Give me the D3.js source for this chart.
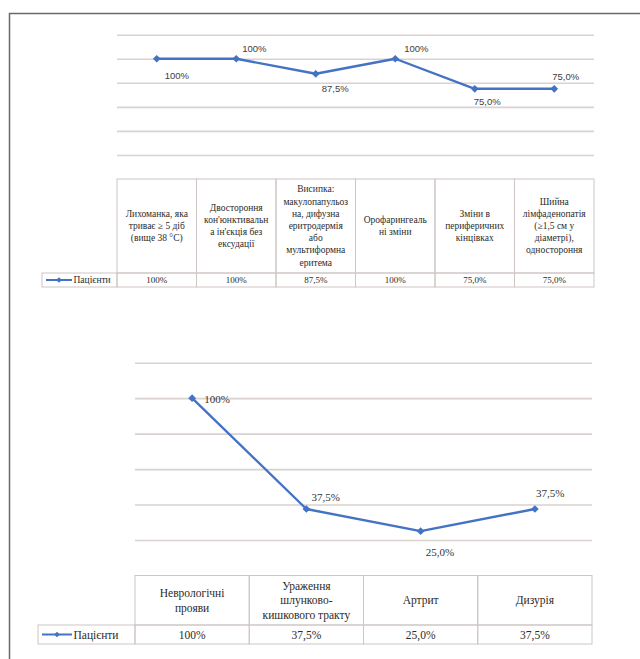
<!DOCTYPE html>
<html>
<head>
<meta charset="utf-8">
<script src="https://cdn.jsdelivr.net/npm/d3@7/dist/d3.min.js"></script>
</head>
<body style="margin:0">
<svg id="fig" width="640" height="659" style="display:block"></svg>
<script>
// ---- data: clinical signs (upper chart) ----
const signCategories = [
  "Лихоманка, яка\nтриває ≥ 5 діб\n(вище 38 °C)",
  "Двостороння\nкон'юнктивальн\nа ін'єкція без\nексудації",
  "Висипка:\nмакулопапульоз\nна, дифузна\nеритродермія\nабо\nмультиформна\nеритема",
  "Орофарингеаль\nні зміни",
  "Зміни в\nпериферичних\nкінцівках",
  "Шийна\nлімфаденопатія\n(≥1,5 см у\nдіаметрі),\nодностороння"
];
const signValues = [100, 100, 87.5, 100, 75.0, 75.0];
const signValueText = ["100%", "100%", "87,5%", "100%", "75,0%", "75,0%"];

// ---- data: other manifestations (lower chart) ----
const otherCategories = [
  "Неврологічні\nпрояви",
  "Ураження\nшлунково-\nкишкового тракту",
  "Артрит",
  "Дизурія"
];
const otherValues = [100, 37.5, 25.0, 37.5];
const otherValueText = ["100%", "37,5%", "25,0%", "37,5%"];

const seriesName = "Пацієнти";
const yTicks = [20, 40, 60, 80, 100, 120];

// ---- styling ----
const lineColor = "#4472c4";
const gridColor = "#d9d2cf";
const cellBorder = "#cdc6c4";
const textColor = "#2b2b2b";
const SERIF = '"Liberation Serif"';
const SANS = '"Liberation Sans"';

const svg = d3.select("#fig");

// page frame
svg.append("path")
  .attr("d", "M9.5,659 L9.5,13.5 L640,13.5")
  .attr("fill", "none").attr("stroke", "#6a6a6a").attr("stroke-width", 1.5);

function addText(parent, family, size) {
  return parent.append("text")
    .style("font-family", family)
    .style("font-size", size + "px");
}

function drawChart(opt) {
  const g = svg.append("g");
  const x = d3.scaleBand().domain(d3.range(opt.values.length))
    .range([opt.left, opt.right]).paddingInner(0).paddingOuter(0);
  const y = d3.scaleLinear().domain([0, 120]).range([opt.tableTop, opt.plotTop]);
  const cx = i => x(i) + x.bandwidth() / 2;

  // horizontal gridlines
  const axis = d3.axisLeft(y).tickValues(yTicks)
    .tickSize(-(opt.right - opt.left)).tickFormat("");
  const ag = g.append("g").attr("transform", `translate(${opt.left},0)`).call(axis);
  ag.select(".domain").remove();
  ag.selectAll(".tick text").remove();
  ag.selectAll(".tick line").attr("stroke", gridColor).attr("stroke-width", 1.6);

  // series line
  const line = d3.line().x((d, i) => cx(i)).y(d => y(d));
  g.append("path").datum(opt.values)
    .attr("d", line).attr("fill", "none")
    .attr("stroke", lineColor).attr("stroke-width", 2.4)
    .attr("stroke-linejoin", "round");

  const diamond = d3.symbol().type(d3.symbolSquare).size(30);
  g.selectAll(".pt").data(opt.values).join("path")
    .attr("d", diamond)
    .attr("transform", (d, i) => `translate(${cx(i)},${y(d)}) rotate(45)`)
    .attr("fill", lineColor);

  // value labels
  opt.values.forEach((d, i) => {
    addText(g, opt.labelFont, opt.labelSize)
      .attr("x", cx(i) + opt.labelShift[i][0])
      .attr("y", y(d) + opt.labelShift[i][1])
      .attr("dominant-baseline", "central")
      .attr("fill", opt.labelColor)
      .text(opt.valueText[i]);
  });

  // data table
  const t = svg.append("g");
  const rowTop = opt.headerBottom, rowBottom = opt.tableBottom;
  const strokeCell = sel => sel.attr("fill", "none").attr("stroke", cellBorder).attr("stroke-width", 1);

  opt.values.forEach((v, i) => {
    t.append("rect").attr("x", x(i)).attr("y", opt.tableTop)
      .attr("width", x.bandwidth()).attr("height", opt.headerBottom - opt.tableTop).call(strokeCell);
    t.append("rect").attr("x", x(i)).attr("y", rowTop)
      .attr("width", x.bandwidth()).attr("height", rowBottom - rowTop).call(strokeCell);

    const lines = opt.categories[i].split("\n");
    const midY = (opt.tableTop + opt.headerBottom) / 2;
    const y0 = midY - (lines.length - 1) * opt.headLine / 2;
    lines.forEach((ln, k) => {
      addText(t, SERIF, opt.headSize)
        .attr("x", cx(i)).attr("y", y0 + k * opt.headLine)
        .attr("text-anchor", "middle").attr("dominant-baseline", "central")
        .attr("fill", textColor).text(ln);
    });

    addText(t, SERIF, opt.cellSize)
      .attr("x", cx(i)).attr("y", (rowTop + rowBottom) / 2)
      .attr("dominant-baseline", "central").attr("text-anchor", "middle")
      .attr("fill", textColor).text(opt.valueText[i]);
  });

  // legend cell
  t.append("rect").attr("x", opt.legendLeft).attr("y", rowTop)
    .attr("width", opt.left - opt.legendLeft).attr("height", rowBottom - rowTop).call(strokeCell);
  const ly = (rowTop + rowBottom) / 2;
  const lx0 = opt.legendLeft + 4, lx1 = lx0 + opt.legendKey;
  t.append("line").attr("x1", lx0).attr("x2", lx1).attr("y1", ly).attr("y2", ly)
    .attr("stroke", lineColor).attr("stroke-width", 2);
  t.append("path").attr("d", d3.symbol().type(d3.symbolSquare).size(16))
    .attr("transform", `translate(${(lx0 + lx1) / 2},${ly}) rotate(45)`).attr("fill", lineColor);
  addText(t, SERIF, opt.legendSize)
    .attr("x", lx1 + 1.5).attr("y", ly)
    .attr("dominant-baseline", "central")
    .attr("fill", textColor).text(seriesName);
}

drawChart({
  values: signValues, valueText: signValueText, categories: signCategories,
  left: 117, right: 594, plotTop: 34.7, tableTop: 179, headerBottom: 273, tableBottom: 287,
  legendLeft: 42, legendKey: 26, legendSize: 9.5,
  headSize: 9.5, headLine: 12.2, cellSize: 9,
  labelFont: SANS, labelSize: 9.5, labelColor: "#404040",
  labelShift: [[8, 17], [6, -10], [6, 15], [9, -10], [-1, 13], [-2, -12]]
});

drawChart({
  values: otherValues, valueText: otherValueText, categories: otherCategories,
  left: 135, right: 592, plotTop: 362.7, tableTop: 575.5, headerBottom: 625, tableBottom: 644,
  legendLeft: 38, legendKey: 30, legendSize: 11.5,
  headSize: 11.5, headLine: 14.5, cellSize: 11.5,
  labelFont: SERIF, labelSize: 11, labelColor: "#333",
  labelShift: [[12, 1], [5, -12], [5, 21], [1, -16]]
});
</script>
</body>
</html>
